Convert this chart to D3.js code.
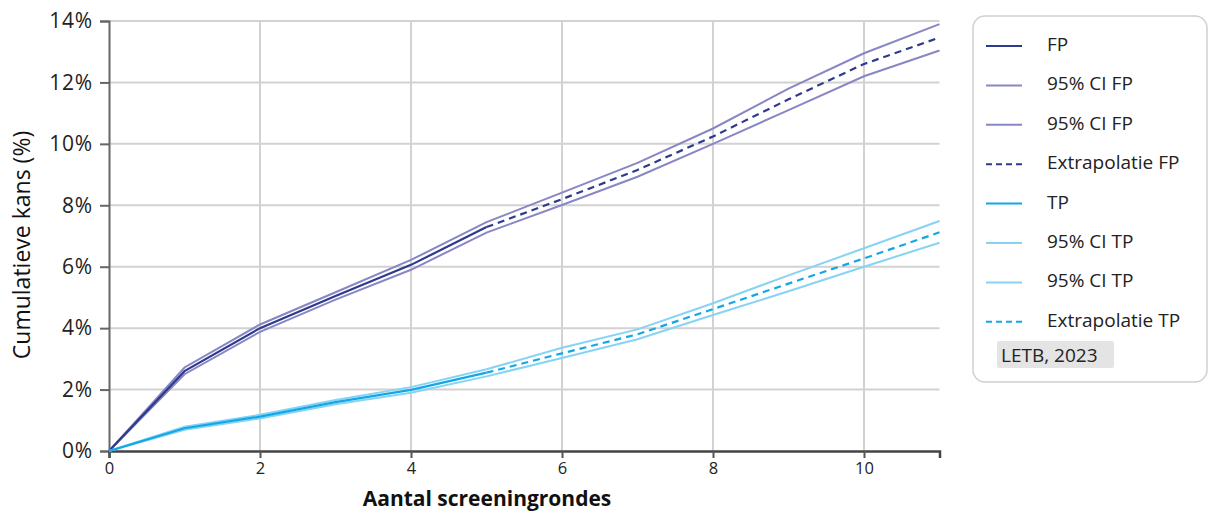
<!DOCTYPE html>
<html>
<head>
<meta charset="utf-8">
<script src="https://cdn.jsdelivr.net/npm/d3@7"></script>
<style>
  body { margin: 0; background: #fff; }
  svg { display: block; font-family: "Open Sans", Lato, sans-serif; }
</style>
</head>
<body>
<svg id="chart" width="1209" height="513"></svg>
<script>
const rounds = [0, 1, 2, 3, 4, 5, 6, 7, 8, 9, 10, 11];
const fp     = [0, 2.60, 4.00, 5.05, 6.06, 7.29, 8.20, 9.15, 10.24, 11.45, 12.60, 13.46];
const fpLow  = [0, 2.50, 3.88, 4.93, 5.90, 7.11, 8.01, 8.93, 10.00, 11.10, 12.20, 13.04];
const fpHigh = [0, 2.72, 4.12, 5.17, 6.22, 7.45, 8.41, 9.38, 10.50, 11.80, 12.95, 13.90];
const tp     = [0, 0.74, 1.12, 1.59, 1.99, 2.55, 3.18, 3.80, 4.62, 5.45, 6.27, 7.12];
const tpLow  = [0, 0.69, 1.06, 1.52, 1.90, 2.43, 3.03, 3.64, 4.43, 5.20, 6.00, 6.78];
const tpHigh = [0, 0.79, 1.18, 1.66, 2.08, 2.66, 3.36, 3.96, 4.81, 5.72, 6.60, 7.49];
const observedUntil = 5; // last observed round; extrapolated afterwards
const yTicks = [0, 2, 4, 6, 8, 10, 12, 14];
const xTicks = [0, 2, 4, 6, 8, 10];
const legendLabels = ["FP", "95% CI FP", "95% CI FP", "Extrapolatie FP", "TP", "95% CI TP", "95% CI TP", "Extrapolatie TP"];
const sourceLabel = "LETB, 2023";

const C = { fp: "#2e3a8c", fpCI: "#8886c4", tp: "#12a7e6", tpCI: "#86d3f5" };

const svg = d3.select("#chart");
const x = d3.scaleLinear().domain([0, 11]).range([109, 939.5]);
const y = d3.scaleLinear().domain([0, 14]).range([451, 21]);

// grid
const grid = svg.append("g");
grid.selectAll("line.h").data(yTicks.filter(d => d > 0)).join("line")
  .attr("x1", x(0)).attr("x2", x(11)).attr("y1", d => y(d)).attr("y2", d => y(d))
  .attr("stroke", "#d2d2d2").attr("stroke-width", 2);
grid.selectAll("line.v").data(xTicks.filter(d => d > 0)).join("line")
  .attr("x1", d => x(d)).attr("x2", d => x(d)).attr("y1", y(0)).attr("y2", y(14))
  .attr("stroke", "#d2d2d2").attr("stroke-width", 2);

// axes
const yAxis = svg.append("g").attr("transform", `translate(${x(0)},0)`)
  .call(d3.axisLeft(y).tickValues(yTicks).tickFormat(d => d + "%").tickSize(9).tickPadding(7));
yAxis.select(".domain").attr("stroke", "#666").attr("stroke-width", 2);
yAxis.selectAll(".tick line").attr("stroke", "#666").attr("stroke-width", 2);
yAxis.selectAll(".tick text").attr("font-size", 21).attr("letter-spacing", 0.8).attr("fill", "#222")
  .attr("font-family", "'Open Sans', sans-serif");

const xAxis = svg.append("g").attr("transform", `translate(0,${y(0)})`)
  .call(d3.axisBottom(x).tickValues(xTicks).tickSize(7).tickPadding(4));
xAxis.select(".domain").attr("stroke", "#444").attr("stroke-width", 2.5);
xAxis.selectAll(".tick line").attr("stroke", "#555").attr("stroke-width", 2);
xAxis.selectAll(".tick text").attr("font-size", 16.5).attr("fill", "#222")
  .attr("font-family", "'Open Sans', sans-serif");

// lines
const line = d3.line().x(d => x(d[0])).y(d => y(d[1]));
const pts = arr => rounds.map((r, i) => [r, arr[i]]);
const solid = arr => pts(arr).filter(p => p[0] <= observedUntil);
const dashed = arr => pts(arr).filter(p => p[0] >= observedUntil);

const series = [
  { d: pts(fpHigh), c: C.fpCI, w: 2, dash: null },
  { d: pts(fpLow), c: C.fpCI, w: 2, dash: null },
  { d: solid(fp), c: C.fp, w: 2.2, dash: null },
  { d: dashed(fp), c: C.fp, w: 2.2, dash: "7,5" },
  { d: pts(tpHigh), c: C.tpCI, w: 2, dash: null },
  { d: pts(tpLow), c: C.tpCI, w: 2, dash: null },
  { d: solid(tp), c: C.tp, w: 2.2, dash: null },
  { d: dashed(tp), c: C.tp, w: 2.2, dash: "7,5" },
];
svg.append("g").selectAll("path").data(series).join("path")
  .attr("d", s => line(s.d)).attr("fill", "none")
  .attr("stroke", s => s.c).attr("stroke-width", s => s.w)
  .attr("stroke-dasharray", s => s.dash);

// axis titles
svg.append("text").attr("x", 487).attr("y", 505.5).attr("text-anchor", "middle")
  .attr("font-size", 21).attr("font-weight", 700).attr("fill", "#111")
  .text("Aantal screeningrondes");
svg.append("text").attr("transform", "translate(30,245) rotate(-90)").attr("text-anchor", "middle")
  .attr("font-size", 23).attr("font-weight", 500).attr("fill", "#111")
  .text("Cumulatieve kans (%)");

// legend
const lg = svg.append("g");
lg.append("rect").attr("x", 973).attr("y", 16).attr("width", 234).attr("height", 366)
  .attr("rx", 12).attr("fill", "#fff").attr("stroke", "#d0d0d0").attr("stroke-width", 1.5);
const legendStyles = [
  { c: C.fp, dash: null }, { c: C.fpCI, dash: null }, { c: C.fpCI, dash: null }, { c: C.fp, dash: "6,4" },
  { c: C.tp, dash: null }, { c: C.tpCI, dash: null }, { c: C.tpCI, dash: null }, { c: C.tp, dash: "6,4" },
];
const items = lg.selectAll("g.item").data(legendLabels).join("g")
  .attr("transform", (d, i) => `translate(0,${46 + i * 39.4})`);
items.append("line").attr("x1", 986).attr("x2", 1022).attr("y1", 0).attr("y2", 0)
  .attr("stroke", (d, i) => legendStyles[i].c).attr("stroke-width", 2)
  .attr("stroke-dasharray", (d, i) => legendStyles[i].dash);
items.append("text").attr("x", 1047).attr("y", 5).attr("font-size", 19).attr("fill", "#222")
  .text(d => d);
lg.append("rect").attr("x", 997).attr("y", 341).attr("width", 117).attr("height", 27)
  .attr("rx", 2).attr("fill", "#e4e4e4");
lg.append("text").attr("x", 1001).attr("y", 362).attr("font-size", 19).attr("fill", "#222")
  .text(sourceLabel);
</script>
</body>
</html>
